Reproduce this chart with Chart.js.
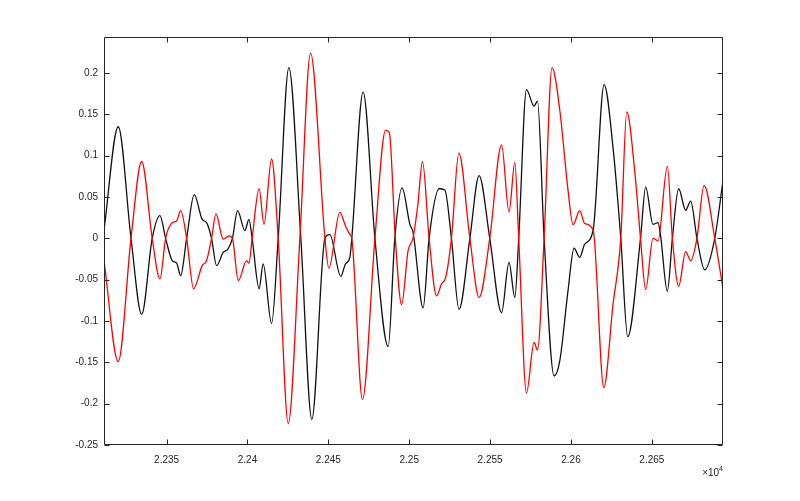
<!DOCTYPE html>
<html>
<head>
<meta charset="utf-8">
<script src="https://cdn.jsdelivr.net/npm/chart.js@4.4.1/dist/chart.umd.min.js"></script>
<style>
  html, body { margin: 0; padding: 0; background: #fff; }
  #wrap { width: 800px; height: 501px; }
</style>
</head>
<body>
<div id="wrap"><canvas id="plot" width="800" height="501"></canvas></div>
<script>
// axis ticks
var xTickValues = [22350, 22400, 22450, 22500, 22550, 22600, 22650];
var xTickLabels = ['2.235', '2.24', '2.245', '2.25', '2.255', '2.26', '2.265'];
var yTickValues = [-0.25, -0.2, -0.15, -0.1, -0.05, 0, 0.05, 0.1, 0.15, 0.2];
var yTickLabels = ['-0.25', '-0.2', '-0.15', '-0.1', '-0.05', '0', '0.05', '0.1', '0.15', '0.2'];
var xMin = 22311.3, xMax = 22694.0;
var yMin = -0.25, yMax = 0.2436;

// black trace
var blackX = [22311.3, 22320.1, 22328.0, 22334.6, 22341.1, 22345.9, 22349.4, 22353.5, 22356.2, 22358.7,
  22362.4, 22367.1, 22372.0, 22374.7, 22377.8, 22380.9, 22385.0, 22387.9, 22390.7, 22393.9,
  22398.4, 22400.9, 22402.9, 22407.2, 22409.7, 22414.9, 22419.0, 22425.6, 22433.0, 22439.8,
  22447.9, 22450.9, 22457.7, 22460.6, 22463.3, 22464.5, 22471.5, 22478.8, 22487.0, 22491.1,
  22495.6, 22500.4, 22502.4, 22508.6, 22512.3, 22518.5, 22522.0, 22526.1, 22530.8, 22537.5,
  22543.2, 22549.8, 22557.1, 22561.7, 22565.3, 22567.7, 22572.5, 22577.2, 22579.3, 22583.4,
  22589.6, 22593.1, 22598.2, 22601.9, 22605.4, 22608.5, 22613.7, 22620.5, 22626.0, 22630.8,
  22635.1, 22643.0, 22646.2, 22650.7, 22653.8, 22655.3, 22659.6, 22662.7, 22666.6, 22670.9,
  22674.0, 22677.9, 22682.7, 22688.9, 22694.0];
var blackY = [0.010, 0.135, 0, -0.092, 0, 0.0275, 0, -0.027, -0.030, -0.045,
  0, 0.053, 0.023, 0.019, 0, -0.033, -0.017, -0.013, 0, 0.0335,
  0.0093, 0.023, 0, -0.061, -0.031, -0.103, 0, 0.2065, 0, -0.219,
  0, 0.0045, -0.046, -0.031, -0.023, 0, 0.177, 0, -0.131, 0,
  0.061, 0.017, 0.007, -0.084, 0, 0.060, 0.0585, 0, -0.086, 0,
  0.076, 0, -0.090, -0.029, -0.0715, 0, 0.180, 0.160, 0.166, 0,
  -0.1665, -0.148, -0.063, -0.012, -0.023, -0.007, 0.010, 0.186, 0.110, 0,
  -0.119, 0, 0.062, 0.017, 0.019, 0.005, -0.064, 0, 0.060, 0.034,
  0.045, 0, -0.038, 0, 0.070];

// red trace
var redX = [22311.3, 22320.1, 22328.0, 22334.6, 22341.1, 22345.9, 22349.4, 22353.5, 22356.2, 22358.7,
  22362.4, 22366.7, 22372.0, 22374.7, 22377.8, 22380.5, 22385.0, 22388.7, 22390.7, 22394.3,
  22399.5, 22400.9, 22402.9, 22407.2, 22410.2, 22414.9, 22419.0, 22425.2, 22432.4, 22439.0,
  22447.9, 22450.3, 22457.1, 22460.6, 22463.3, 22464.5, 22471.1, 22478.8, 22485.4, 22487.7,
  22491.4, 22495.3, 22499.3, 22502.4, 22505.3, 22508.2, 22512.3, 22516.9, 22520.0, 22522.6,
  22526.1, 22530.7, 22537.5, 22543.2, 22549.8, 22557.1, 22561.7, 22565.3, 22567.7, 22572.5,
  22577.2, 22579.3, 22583.4, 22588.3, 22593.1, 22598.2, 22601.3, 22605.4, 22608.5, 22613.7,
  22620.3, 22626.0, 22630.8, 22634.5, 22639.4, 22643.0, 22646.2, 22650.7, 22653.8, 22659.6,
  22662.7, 22666.6, 22670.9, 22674.0, 22677.9, 22682.3, 22688.9, 22694.0];
var redY = [-0.027, -0.149, 0, 0.093, 0, -0.049, 0, 0.019, 0.021, 0.0335,
  0, -0.061, -0.033, -0.027, 0, 0.0295, -0.001, 0.003, 0, -0.051,
  -0.027, -0.030, 0, 0.060, 0.017, 0.096, 0, -0.224, 0, 0.224,
  0, -0.036, 0.0315, 0.015, 0.005, 0, -0.195, 0, 0.131, 0.128,
  0, -0.080, -0.015, 0.001, 0.040, 0.093, 0, -0.0695, -0.055, -0.047,
  0, 0.103, 0, -0.0715, 0, 0.113, 0.032, 0.092, 0, -0.187,
  -0.126, -0.135, 0, 0.2065, 0.155, 0.058, 0.0165, 0.0335, 0.018, 0.010,
  -0.1805, -0.080, 0, 0.153, 0.082, 0, -0.062, 0, -0.003, 0.087,
  0, -0.058, -0.016, -0.027, 0, 0.064, 0, -0.061];

var axisColor = '#262626';
var fontFamily = '"Liberation Sans", Arial, Helvetica, sans-serif';

function pairs(xs, ys) {
  var out = [];
  for (var i = 0; i < xs.length; i++) out.push({x: xs[i], y: ys[i]});
  return out;
}

// box around the axes with inward ticks on all four sides, plus the x10^4 note
var boxPlugin = {
  id: 'matlabBox',
  afterDraw: function(chart) {
    var ctx = chart.ctx;
    var a = chart.chartArea;
    var xs = chart.scales.x, ys = chart.scales.y;
    var L = Math.round(a.left) + 0.5, R = Math.round(a.right) - 0.5;
    var T = Math.round(a.top) + 0.5, B = Math.round(a.bottom) - 0.5;
    ctx.save();
    ctx.strokeStyle = axisColor;
    ctx.lineWidth = 1;
    ctx.beginPath();
    ctx.rect(L, T, R - L, B - T);
    xTickValues.forEach(function(v) {
      var px = Math.round(xs.getPixelForValue(v)) + 0.5;
      ctx.moveTo(px, B); ctx.lineTo(px, B - 5);
      ctx.moveTo(px, T); ctx.lineTo(px, T + 5);
    });
    yTickValues.forEach(function(v) {
      var py = Math.round(ys.getPixelForValue(v)) + 0.5;
      ctx.moveTo(L, py); ctx.lineTo(L + 5, py);
      ctx.moveTo(R, py); ctx.lineTo(R - 5, py);
    });
    ctx.stroke();

    ctx.fillStyle = axisColor;
    ctx.textBaseline = 'alphabetic';
    ctx.textAlign = 'left';
    ctx.font = '10px ' + fontFamily;
    var base = a.bottom + 31;
    var w = ctx.measureText('\u00d710').width;
    ctx.font = '7px ' + fontFamily;
    var w2 = ctx.measureText('4').width;
    var start = a.right - w - w2;
    ctx.font = '10px ' + fontFamily;
    ctx.fillText('\u00d710', start, base);
    ctx.font = '7px ' + fontFamily;
    ctx.fillText('4', start + w, base - 5);
    ctx.restore();
  }
};

var cfg = {
  type: 'line',
  data: {
    datasets: [
      {
        label: 'red',
        data: pairs(redX, redY),
        borderColor: '#ff0000',
        borderWidth: 1.3,
        pointRadius: 0,
        fill: false,
        cubicInterpolationMode: 'monotone'
      },
      {
        label: 'black',
        data: pairs(blackX, blackY),
        borderColor: '#111111',
        borderWidth: 1.3,
        pointRadius: 0,
        fill: false,
        cubicInterpolationMode: 'monotone'
      }
    ]
  },
  options: {
    responsive: false,
    animation: false,
    events: [],
    layout: { padding: { top: 37, right: 77, left: 0, bottom: 0 } },
    plugins: { legend: { display: false }, tooltip: { enabled: false } },
    scales: {
      x: {
        type: 'linear',
        min: xMin,
        max: xMax,
        grid: { display: false, drawTicks: false },
        border: { display: false },
        afterBuildTicks: function(s) { s.ticks = xTickValues.map(function(v) { return {value: v}; }); },
        afterFit: function(s) { s.height = 56; },
        ticks: {
          autoSkip: false,
          maxRotation: 0,
          padding: 9,
          color: axisColor,
          font: { family: fontFamily, size: 10 },
          callback: function(v, i) { return xTickLabels[i]; }
        }
      },
      y: {
        type: 'linear',
        min: yMin,
        max: yMax,
        grid: { display: false, drawTicks: false },
        border: { display: false },
        afterBuildTicks: function(s) { s.ticks = yTickValues.map(function(v) { return {value: v}; }); },
        afterFit: function(s) { s.width = 104; },
        ticks: {
          autoSkip: false,
          padding: 6,
          color: axisColor,
          font: { family: fontFamily, size: 10 },
          callback: function(v, i) { return yTickLabels[i]; }
        }
      }
    }
  },
  plugins: [boxPlugin]
};

var plot = new Chart(document.getElementById('plot').getContext('2d'), cfg);
</script>
</body>
</html>
